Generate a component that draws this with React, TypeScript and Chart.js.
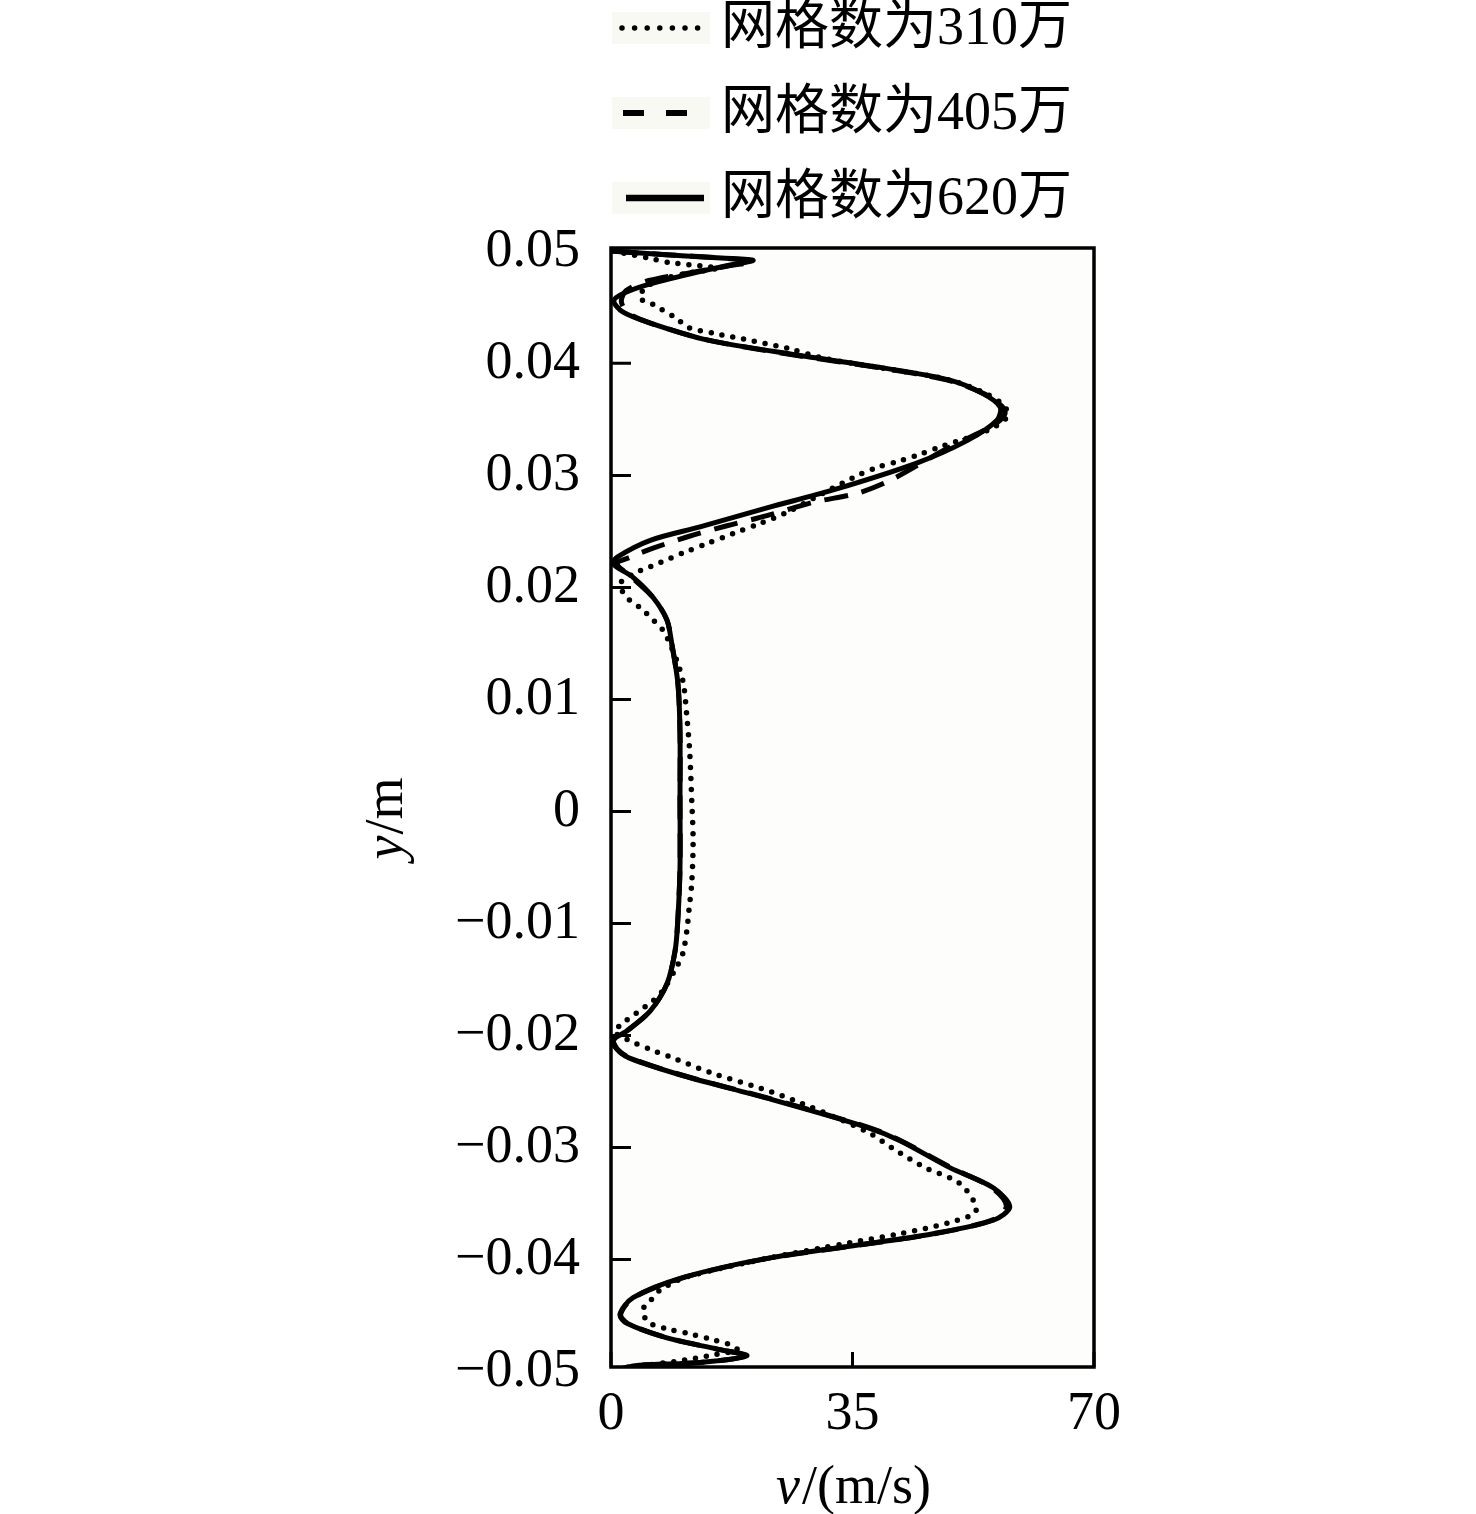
import { useEffect, useRef } from 'react';
import { Chart, registerables } from 'chart.js';

Chart.register(...registerables);

const seriesNames = ['网格数为310万', '网格数为405万', '网格数为620万'];
const xTickValues = [0, 35, 70];
const yTickValues = [0.05, 0.04, 0.03, 0.02, 0.01, 0, -0.01, -0.02, -0.03, -0.04, -0.05];

// 310万 (dotted)
const y310 = [
  0.05, 0.0497, 0.0494, 0.049, 0.0487, 0.0485, 0.0481, 0.0476, 0.0468, 0.0458,
  0.0454, 0.0449, 0.044, 0.0432, 0.0427, 0.042, 0.0413, 0.0405, 0.0396, 0.0386,
  0.0374, 0.0362, 0.0352, 0.034, 0.0325, 0.0319, 0.0313, 0.0307, 0.0298, 0.028,
  0.0267, 0.0257, 0.0248, 0.0239, 0.0231, 0.0222, 0.0212, 0.0203, 0.0191, 0.0182,
  0.0171, 0.0162, 0.015, 0.0132, 0.0114, 0.0084, 0.0054, 0.001, -0.0026, -0.0064,
  -0.0088, -0.0106, -0.0127, -0.0139, -0.016, -0.0169, -0.018, -0.0191, -0.0197, -0.0207,
  -0.0213, -0.0219, -0.0234, -0.0247, -0.026, -0.0286, -0.0301, -0.0318, -0.0331, -0.0347,
  -0.0358, -0.0367, -0.0377, -0.0385, -0.039, -0.0399, -0.0416, -0.0428, -0.0437, -0.0445,
  -0.0456, -0.0462, -0.0466, -0.0471, -0.0477, -0.0481, -0.0485, -0.049, -0.0495, -0.05,
];
const v310 = [
  0.3, 3, 5.5, 8.5, 13, 15.5, 11.5, 8, 5, 4.2,
  5.7, 7.1, 9.5, 11.2, 14.8, 20.6, 25.9, 30.5, 39, 48.5,
  54, 57, 57.4, 54.5, 47.5, 44.8, 41.9, 38.5, 35.1, 29.5,
  25.5, 21.6, 17.7, 13.9, 10.5, 7.1, 3.2, 1.3, 2.3, 4.2,
  6.1, 7.5, 8.5, 9.7, 10.5, 11, 11.4, 11.7, 11.9, 11.7,
  11.3, 11, 10.4, 9.5, 7.5, 6.1, 3.7, 1.3, 0.5, 3.5,
  5.9, 8.5, 14.8, 21.6, 27.4, 37.1, 40.9, 45.5, 50.3, 52.5,
  52.8, 49.1, 41.9, 34.6, 30.3, 22.6, 10.8, 7, 5.7, 4.6,
  5.4, 8.1, 11.2, 14.3, 17.7, 18.3, 15, 10.5, 4.5, 0.3,
];

// 405万 (dashed)
const y405 = [
  0.05, 0.0497, 0.0494, 0.0491, 0.0487, 0.0481, 0.0474, 0.0465, 0.0455, 0.0445,
  0.0436, 0.0421, 0.0407, 0.0396, 0.0385, 0.0373, 0.0362, 0.0355, 0.0345, 0.0324,
  0.0296, 0.0284, 0.0276, 0.0264, 0.0255, 0.0245, 0.0235, 0.0227, 0.0221, 0.0209,
  0.0191, 0.0171, 0.015, 0.0114, 0.007, 0.001, -0.005, -0.0095, -0.0124, -0.0154,
  -0.0178, -0.0196, -0.0204, -0.0212, -0.022, -0.0236, -0.0256, -0.0282, -0.0294, -0.0318,
  -0.0336, -0.0352, -0.0364, -0.0377, -0.0386, -0.0399, -0.0416, -0.0434, -0.0449, -0.0457,
  -0.047, -0.048, -0.0486, -0.0492, -0.0495, -0.05,
];
const v405 = [
  0.5, 8, 16, 20.8, 17, 11.5, 5.5, 2.2, 1.5, 2.5,
  5.7, 13.9, 27, 39, 48.8, 54, 56.6, 57.1, 55.5, 48.7,
  40.6, 35.7, 29.3, 22.6, 16.8, 11, 6.1, 2.8, 0.9, 3,
  6.1, 8.1, 8.8, 9.7, 10, 10, 10, 9.7, 9.3, 8.1,
  5.7, 2.3, 0.4, 0.9, 2.7, 10.6, 22.8, 37.3, 42, 49.3,
  55.2, 57.3, 55.6, 46.9, 37.3, 22.8, 10.6, 3.3, 1.4, 2.4,
  8.2, 15.4, 19.6, 12.9, 3.2, 0.3,
];

// 620万 (solid)
const y620 = [
  0.05, 0.0497, 0.0494, 0.0492, 0.0488, 0.0482, 0.0471, 0.0463, 0.0456, 0.0446,
  0.0436, 0.0421, 0.0407, 0.0396, 0.0385, 0.0373, 0.0361, 0.0349, 0.0331, 0.0311,
  0.0287, 0.0271, 0.0254, 0.0242, 0.0227, 0.0221, 0.0209, 0.0191, 0.0171, 0.015,
  0.0114, 0.007, 0.001, -0.005, -0.0095, -0.0124, -0.0154, -0.0178, -0.0196, -0.0204,
  -0.0212, -0.022, -0.0236, -0.0256, -0.0282, -0.0294, -0.0318, -0.0336, -0.0353, -0.0365,
  -0.0377, -0.0386, -0.0399, -0.0416, -0.0434, -0.0449, -0.0457, -0.047, -0.048, -0.0486,
  -0.0492, -0.0495, -0.05,
];
const v620 = [
  0.5, 8, 16, 20.6, 17.5, 12.9, 5.7, 2, 0.4, 1.7,
  5.7, 13.9, 27.4, 39.4, 49.1, 53.9, 56.4, 55.9, 51.6, 44.3,
  32.2, 22.6, 12.9, 5.7, 0.9, 0.3, 3.2, 6.1, 8.1, 8.8,
  9.7, 10, 10, 10, 9.7, 9.3, 8.1, 5.7, 2.3, 0.3,
  0.8, 2.6, 10.5, 22.6, 37.1, 41.9, 49.1, 55.4, 57.8, 55.4,
  46.7, 37.1, 22.6, 10.5, 3.2, 1.3, 2.3, 8.1, 15.4, 19.7,
  12.9, 3.2, 0.3,
];

const serif = '"Liberation Serif", "Times New Roman", serif';
const legendFont = '54px "Liberation Serif", "Noto Sans CJK SC", serif';

function toPoints(ys: number[], vs: number[]) {
  return ys.map((y, i) => ({ x: vs[i], y }));
}

function formatY(value: number) {
  if (Math.abs(value) < 1e-9) return '0';
  const s = Math.abs(value).toFixed(2);
  return value < 0 ? '\u2212' + s : s;
}

const framePlugin = {
  id: 'frame',
  beforeDatasetsDraw(chart: any) {
    const { ctx, chartArea: a } = chart;
    ctx.save();
    ctx.fillStyle = '#fdfdfb';
    ctx.fillRect(a.left, a.top, a.right - a.left, a.bottom - a.top);
    ctx.restore();
  },
  afterDatasetsDraw(chart: any) {
    const { ctx, chartArea: a, scales } = chart;
    ctx.save();
    ctx.strokeStyle = '#000';
    ctx.lineWidth = 3.5;
    ctx.setLineDash([]);
    ctx.strokeRect(a.left, a.top, a.right - a.left, a.bottom - a.top);

    // inward tick marks
    ctx.lineWidth = 3;
    ctx.beginPath();
    scales.y.ticks.forEach((t: any) => {
      const py = scales.y.getPixelForValue(t.value);
      if (py < a.top - 1 || py > a.bottom + 1) return;
      ctx.moveTo(a.left, py);
      ctx.lineTo(a.left + 20, py);
    });
    scales.x.ticks.forEach((t: any) => {
      const px = scales.x.getPixelForValue(t.value);
      ctx.moveTo(px, a.bottom);
      ctx.lineTo(px, a.bottom - 15);
    });
    ctx.stroke();

    // axis titles with italic variable
    ctx.fillStyle = '#000';
    ctx.textBaseline = 'alphabetic';
    ctx.textAlign = 'left';
    const italic = 'italic 54px ' + serif;
    const normal = '54px ' + serif;

    ctx.font = italic;
    const vW = ctx.measureText('v').width;
    ctx.font = normal;
    const restX = '/(m/s)';
    const rW = ctx.measureText(restX).width;
    const cx = (a.left + a.right) / 2;
    let sx = cx - (vW + rW) / 2;
    ctx.font = italic;
    ctx.fillText('v', sx, 1503);
    ctx.font = normal;
    ctx.fillText(restX, sx + vW + 2, 1503);

    ctx.save();
    ctx.translate(402, 819);
    ctx.rotate(-Math.PI / 2);
    ctx.font = italic;
    const yW = ctx.measureText('y').width;
    ctx.font = normal;
    const mW = ctx.measureText('/m').width;
    sx = -(yW + mW) / 2;
    ctx.font = italic;
    ctx.fillText('y', sx, 0);
    ctx.font = normal;
    ctx.fillText('/m', sx + yW + 1, 0);
    ctx.restore();

    // legend
    const rows = [28, 113, 198];
    ctx.fillStyle = '#f9f9f4';
    rows.forEach((ry) => ctx.fillRect(612, ry - 16, 98, 32));
    ctx.strokeStyle = '#000';

    ctx.lineCap = 'round';
    ctx.lineWidth = 5.5;
    ctx.setLineDash([0, 12.6]);
    ctx.beginPath();
    ctx.moveTo(622, rows[0]);
    ctx.lineTo(700, rows[0]);
    ctx.stroke();

    ctx.lineCap = 'butt';
    ctx.lineWidth = 6;
    ctx.setLineDash([21, 22]);
    ctx.beginPath();
    ctx.moveTo(623, rows[1]);
    ctx.lineTo(690, rows[1]);
    ctx.stroke();

    ctx.setLineDash([]);
    ctx.lineWidth = 6.5;
    ctx.beginPath();
    ctx.moveTo(626, rows[2]);
    ctx.lineTo(704, rows[2]);
    ctx.stroke();

    ctx.fillStyle = '#000';
    ctx.font = legendFont;
    ctx.textBaseline = 'middle';
    seriesNames.forEach((name, i) => ctx.fillText(name, 721, rows[i] + 2));
    ctx.restore();
  },
};

export default function App() {
  const canvasRef = useRef<HTMLCanvasElement>(null);
  const chartRef = useRef<Chart | null>(null);

  useEffect(() => {
    document.body.style.margin = '0';
    if (!canvasRef.current) return;
    if (chartRef.current) chartRef.current.destroy();

    const common = {
      pointRadius: 0,
      borderColor: '#000',
      fill: false,
      tension: 0.3,
    };

    chartRef.current = new Chart(canvasRef.current, {
      type: 'line',
      data: {
        datasets: [
          {
            ...common,
            label: seriesNames[0],
            data: toPoints(y310, v310),
            borderWidth: 5.5,
            borderDash: [0, 11],
            borderCapStyle: 'round',
          },
          {
            ...common,
            label: seriesNames[1],
            data: toPoints(y405, v405),
            borderWidth: 5,
            borderDash: [24, 14],
          },
          {
            ...common,
            label: seriesNames[2],
            data: toPoints(y620, v620),
            borderWidth: 5,
          },
        ],
      },
      options: {
        responsive: true,
        maintainAspectRatio: false,
        animation: false,
        devicePixelRatio: 1,
        layout: { padding: { left: 0, top: 248, right: 382, bottom: 0 } },
        plugins: {
          legend: { display: false },
          tooltip: { enabled: false },
        },
        scales: {
          x: {
            type: 'linear',
            min: 0,
            max: 70,
            afterBuildTicks: (scale: any) => {
              scale.ticks = xTickValues.map((value) => ({ value }));
            },
            afterFit: (scale: any) => {
              scale.height = 147;
            },
            grid: { display: false, drawTicks: false },
            border: { display: false },
            ticks: {
              color: '#000',
              padding: 15,
              font: { family: serif, size: 54 },
              maxRotation: 0,
              autoSkip: false,
            },
          },
          y: {
            type: 'linear',
            min: -0.0496,
            max: 0.0503,
            afterBuildTicks: (scale: any) => {
              scale.ticks = yTickValues.map((value) => ({ value }));
            },
            afterFit: (scale: any) => {
              scale.width = 611;
            },
            grid: { display: false, drawTicks: false },
            border: { display: false },
            ticks: {
              color: '#000',
              padding: 31,
              autoSkip: false,
              font: { family: serif, size: 54 },
              callback: (value: any) => formatY(Number(value)),
            },
          },
        },
      },
      plugins: [framePlugin],
    });

    return () => {
      if (chartRef.current) {
        chartRef.current.destroy();
        chartRef.current = null;
      }
    };
  }, []);

  return (
    <div style={{ width: '1476px', height: '1514px', position: 'relative', background: '#fff' }}>
      <canvas ref={canvasRef} />
    </div>
  );
}
